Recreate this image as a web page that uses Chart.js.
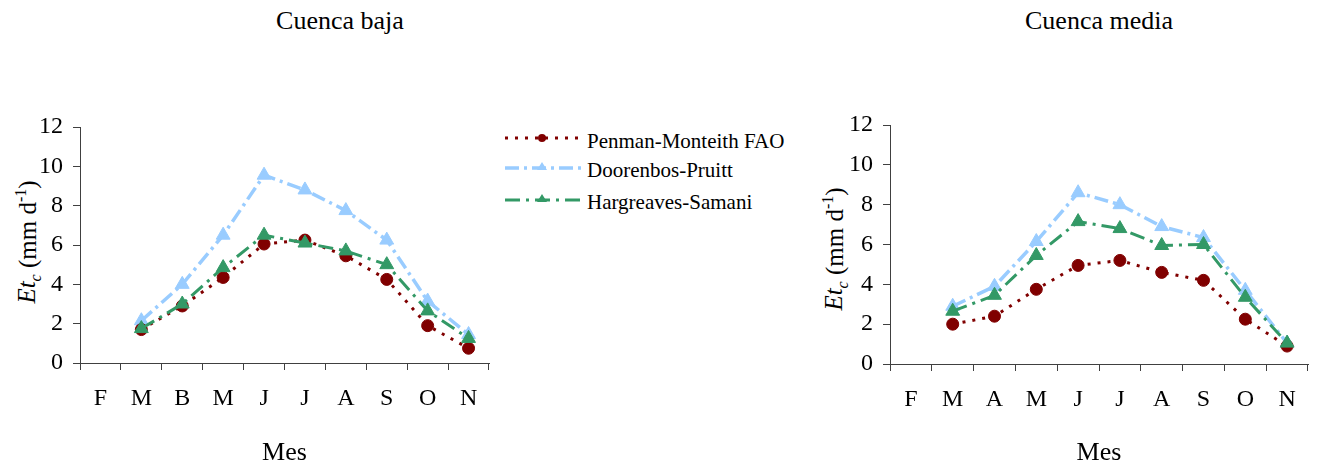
<!DOCTYPE html>
<html lang="es">
<head>
<meta charset="UTF-8">
<title>Etc - Cuenca baja y media</title>
<style>
    body {
        margin: 0;
        background: #fff;
        font-family: "Liberation Serif", "Times New Roman", serif;
    }
    #page {
        position: relative;
        width: 1318px;
        height: 466px;
        overflow: hidden;
    }
    canvas {
        position: absolute;
        top: 0;
    }
    .titulo {
        position: absolute;
        top: 6px;
        font-size: 26px;
        line-height: 30px;
        white-space: nowrap;
        transform: translateX(-50%);
    }
    .ylabel {
        position: absolute;
        font-size: 25px;
        line-height: 30px;
        white-space: nowrap;
        transform: translate(-50%, -50%) rotate(-90deg);
    }
    .ylabel sub, .ylabel sup {
        font-size: 16px;
    }
    .ley-texto {
        position: absolute;
        left: 587px;
        font-family: "Liberation Serif", "Times New Roman", serif;
        font-size: 21px;
        line-height: 21px;
        white-space: nowrap;
    }
    .ley-linea {
        position: absolute;
        left: 503px;
    }
</style>
</head>
<body>
<div id="page">
    <div class="titulo" style="left:340px">Cuenca baja</div>
    <div class="titulo" style="left:1099px">Cuenca media</div>

    <div class="ylabel" style="left:29px; top:242px"><i>Et<sub>c</sub></i> (mm d<sup>-1</sup>)</div>
    <div class="ylabel" style="left:836px; top:249px"><i>Et<sub>c</sub></i> (mm d<sup>-1</sup>)</div>

    <canvas id="baja" width="500" height="466" style="left:0"></canvas>
    <canvas id="media" width="508" height="466" style="left:810px"></canvas>

    <div id="leyenda"></div>
</div>

<script src="https://cdn.jsdelivr.net/npm/chart.js"></script>
<script>
    // meses
    const mesesBaja = ['F', 'M', 'B', 'M', 'J', 'J', 'A', 'S', 'O', 'N'];
    const mesesMedia = ['F', 'M', 'A', 'M', 'J', 'J', 'A', 'S', 'O', 'N'];

    // Cuenca baja (mm/d)
    const bajaPenman = [null, 1.7, 2.9, 4.35, 6.05, 6.25, 5.45, 4.25, 1.9, 0.75];
    const bajaDoorenbos = [null, 2.15, 4.0, 6.5, 9.55, 8.8, 7.75, 6.25, 3.15, 1.45];
    const bajaHargreaves = [null, 1.75, 3.0, 4.85, 6.5, 6.1, 5.7, 5.0, 2.65, 1.25];

    // Cuenca media (mm/d)
    const mediaPenman = [null, 2.0, 2.4, 3.75, 4.95, 5.2, 4.6, 4.2, 2.25, 0.9];
    const mediaDoorenbos = [null, 2.9, 3.9, 6.15, 8.6, 8.0, 6.9, 6.35, 3.7, 1.05];
    const mediaHargreaves = [null, 2.65, 3.45, 5.45, 7.15, 6.8, 5.95, 6.0, 3.35, 1.05];

    const ticksY = [0, 2, 4, 6, 8, 10, 12];

    // series
    const nombres = ['Penman-Monteith FAO', 'Doorenbos-Pruitt', 'Hargreaves-Samani'];
    const colores = ['#800000', '#99ccff', '#339966'];
    const trazos = [[3, 7], [14, 5, 3, 5], [15, 6, 3, 6]];
    const anchos = [3, 3.5, 3];
    const marcas = ['circle', 'triangle', 'triangle'];
    const radios = [6, 8, 8];
    const ordenes = [1, 2, 0];

    const fuente = '"Liberation Serif", "Times New Roman", serif';
    const eje = '#404040';

    function crearGrafico(id, etiquetas, series, area) {
        const datasets = series.map((valores, i) => ({
            label: nombres[i],
            data: valores,
            borderColor: colores[i],
            backgroundColor: colores[i],
            borderWidth: anchos[i],
            borderDash: trazos[i],
            pointStyle: marcas[i],
            pointRadius: radios[i],
            pointHoverRadius: radios[i],
            pointBorderWidth: 1,
            tension: 0,
            fill: false,
            order: ordenes[i]
        }));

        return new Chart(document.getElementById(id), {
            type: 'line',
            data: { labels: etiquetas, datasets: datasets },
            options: {
                responsive: false,
                animation: false,
                layout: { padding: { top: area.top, right: area.right, left: 0, bottom: 0 } },
                plugins: {
                    legend: { display: false },
                    tooltip: { enabled: false }
                },
                scales: {
                    x: {
                        offset: true,
                        grid: { offset: true, drawOnChartArea: false, tickLength: 7, color: eje, lineWidth: 1 },
                        border: { color: eje, width: 1 },
                        ticks: { color: '#000', font: { family: fuente, size: 24 }, padding: 14, maxRotation: 0, autoSkip: false },
                        title: {
                            display: true, text: 'Mes', color: '#000',
                            font: { family: fuente, size: 26, lineHeight: 1 },
                            padding: { top: 0, bottom: 0 }
                        },
                        afterFit(s) {
                            s.height = area.xh;
                            s.paddingLeft = 0;
                            s.paddingRight = 0;
                        }
                    },
                    y: {
                        min: 0,
                        max: 12,
                        afterBuildTicks(s) {
                            s.ticks = ticksY.map(v => ({ value: v }));
                        },
                        grid: { drawOnChartArea: false, tickLength: 7, color: eje, lineWidth: 1 },
                        border: { color: eje, width: 1 },
                        ticks: { color: '#000', font: { family: fuente, size: 24 }, padding: 10 },
                        afterFit(s) {
                            s.width = 80;
                            s.paddingTop = 0;
                            s.paddingBottom = 0;
                        }
                    }
                }
            }
        });
    }

    crearGrafico('baja', mesesBaja, [bajaPenman, bajaDoorenbos, bajaHargreaves], { top: 127, right: 11, xh: 103 });
    crearGrafico('media', mesesMedia, [mediaPenman, mediaDoorenbos, mediaHargreaves], { top: 125, right: 10, xh: 102 });

    // leyenda
    const filasTexto = [131, 160, 192];
    const filasLinea = [138, 168, 200];
    const leyenda = document.getElementById('leyenda');

    nombres.forEach((nombre, i) => {
        const y = filasLinea[i];
        const marca = marcas[i] === 'circle'
            ? `<circle cx="39" cy="10" r="4" fill="${colores[i]}"/>`
            : `<polygon points="39,4 44,12 34,12" fill="${colores[i]}"/>`;
        const svg = `<svg class="ley-linea" style="top:${y - 10}px" width="80" height="20">
            <line x1="2" y1="10" x2="78" y2="10" stroke="${colores[i]}" stroke-width="${anchos[i]}" stroke-dasharray="${trazos[i].join(' ')}"/>
            ${marca}</svg>`;
        leyenda.insertAdjacentHTML('beforeend', svg);

        const t = document.createElement('div');
        t.className = 'ley-texto';
        t.style.top = filasTexto[i] + 'px';
        t.textContent = nombre;
        leyenda.appendChild(t);
    });
</script>
</body>
</html>
